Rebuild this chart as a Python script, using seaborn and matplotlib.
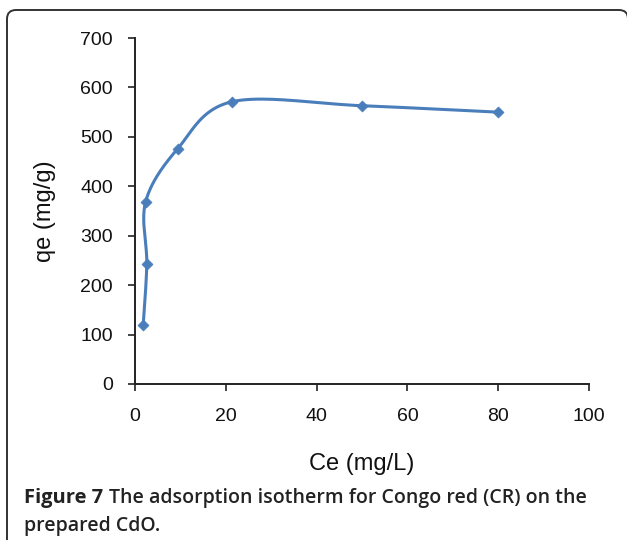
import numpy as np
import pandas as pd
import matplotlib
matplotlib.use("Agg")
import matplotlib.pyplot as plt
import seaborn as sns
from matplotlib.patches import FancyBboxPatch
from matplotlib.transforms import IdentityTransform

# Data
ce = [1.8, 2.6, 2.35, 9.4, 21.3, 50.0, 80.0]
qe = [119, 243, 369, 476, 571, 563, 550]
x_ticks = [0, 20, 40, 60, 80, 100]
y_ticks = [0, 100, 200, 300, 400, 500, 600, 700]

sns.set_style("ticks")
plt.rcParams['font.family'] = ['Liberation Sans', 'DejaVu Sans']

COLOR = "#4a7ebb"

def catmull_rom(xs, ys, n=40):
    p = np.column_stack([xs, ys]).astype(float)
    p = np.vstack([p[0], p, p[-1]])
    out = []
    for i in range(1, len(p) - 2):
        p0, p1, p2, p3 = p[i - 1], p[i], p[i + 1], p[i + 2]
        c1 = p1 + (p2 - p0) / 6.0
        c2 = p2 - (p3 - p1) / 6.0
        t = np.linspace(0, 1, n)[:, None]
        b = ((1 - t) ** 3) * p1 + 3 * ((1 - t) ** 2) * t * c1 + 3 * (1 - t) * t ** 2 * c2 + t ** 3 * p2
        out.append(b if i == 1 else b[1:])
    return np.vstack(out)

df = pd.DataFrame({"Ce": ce, "qe": qe})
curve = catmull_rom(ce, qe)
cdf = pd.DataFrame({"x": curve[:, 0], "y": curve[:, 1], "i": np.arange(len(curve))})

fig = plt.figure(figsize=(6.27, 5.40), dpi=100)
ax = fig.add_axes([0.2153, 0.2889, 0.7241, 0.6407])

sns.lineplot(data=cdf, x="x", y="y", sort=False, color=COLOR, lw=2.2, ax=ax, estimator=None)
sns.scatterplot(data=df, x="Ce", y="qe", marker="D", s=32, color=COLOR, edgecolor=COLOR, ax=ax, zorder=3)

ax.set_xlim(0, 100)
ax.set_ylim(0, 700)
ax.set_xticks(x_ticks)
ax.set_yticks(y_ticks)
ax.tick_params(axis="both", direction="out", length=5, width=1.2, colors="#222222", labelsize=14, labelcolor="#111111")
ax.tick_params(axis="y", pad=11)
ax.tick_params(axis="x", pad=12)
for s in ["top", "right"]:
    ax.spines[s].set_visible(False)
for s in ["left", "bottom"]:
    ax.spines[s].set_color("#222222")
    ax.spines[s].set_linewidth(1.4)

ax.set_xlabel("Ce (mg/L)", fontsize=17, color="#111111")
ax.set_ylabel("qe (mg/g)", fontsize=17, color="#111111")
ax.yaxis.set_label_coords(-0.175, 0.5)
ax.xaxis.set_label_coords(0.5, -0.2)

# Caption
cap_font = ['Open Sans', 'DejaVu Sans']
t1 = fig.text(24 / 627, 1 - 498 / 540, "Figure 7", fontsize=14.5, fontweight="bold", family=cap_font,
              va="center", ha="left", color="#222222")
fig.canvas.draw()
ext = t1.get_window_extent()
fig.text((ext.x1 + 6) / 627, 1 - 498 / 540, "The adsorption isotherm for Congo red (CR) on the", fontsize=14,
         fontweight="semibold", family=cap_font, va="center", ha="left", color="#222222")
fig.text(24 / 627, 1 - 526 / 540, "prepared CdO.", fontsize=14, fontweight="semibold", family=cap_font,
         va="center", ha="left", color="#222222")

# Rounded frame
box = FancyBboxPatch((7, -30), 621, 560, boxstyle="round,pad=0,rounding_size=9",
                     transform=IdentityTransform(), fill=False, edgecolor="#333333", lw=1.4)
fig.patches.append(box)

fig.savefig("out.png", dpi=100)
